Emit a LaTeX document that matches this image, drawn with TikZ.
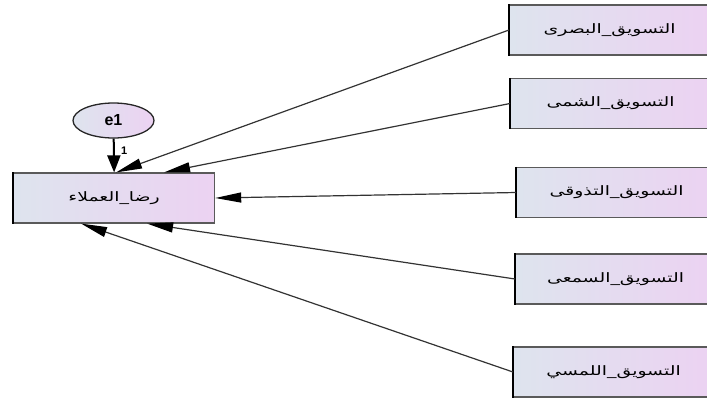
\documentclass[tikz,border=0pt]{standalone}
\usepackage{fontspec}
\usetikzlibrary{arrows.meta,shapes.geometric}
\newfontfamily\arabicfont[Script=Arabic]{DejaVu Sans}
\setmainfont{Liberation Sans}
\TeXXeTstate=1
\definecolor{shL}{RGB}{222,228,238}
\definecolor{shR}{RGB}{236,210,242}
\definecolor{edge}{RGB}{90,90,90}
\newcommand{\artxt}[1]{\scalebox{1.45}[1]{\arabicfont\fontsize{13}{15}\selectfont\beginR #1\endR}}
\tikzset{
  varbox/.style={rectangle, draw=edge, line width=1.2pt, left color=shL, right color=shR,
    minimum width=200pt, minimum height=50pt, inner sep=0pt, anchor=west},
  errnode/.style={ellipse, draw=black!85, line width=1.3pt, left color=shL, right color=shR,
    minimum width=81pt, minimum height=35pt, inner sep=0pt, font=\bfseries\fontsize{16}{18}\selectfont},
  path/.style={draw=black!80, line width=1.2pt, -{Triangle[length=26pt,width=10pt,color=black,fill=black]}},
  errpath/.style={draw=black, line width=2pt, -{Triangle[length=17pt,width=13pt]}},
  leftedge/.style={line width=2.8pt, black},
}
\begin{document}
\begin{tikzpicture}[x=1pt,y=-1pt]
\useasboundingbox (0,0) rectangle (707,397);
\clip (0,0) rectangle (707,397);
\node[varbox] (B1) at (509,30) {\artxt{التسويق\_البصرى}};
\node[varbox] (B2) at (510,103.5) {\artxt{التسويق\_الشمى}};
\node[varbox] (B3) at (516,192.5) {\artxt{التسويق\_التذوقى}};
\node[varbox] (B4) at (515,279) {\artxt{التسويق\_السمعى}};
\node[varbox] (B5) at (513,372) {\artxt{التسويق\_اللمسي}};
\node[varbox, minimum width=201pt] (L) at (13,198) {\artxt{رضا\_العملاء}};
\node[errnode] (E) at (113.5,120.5) {e1};
\foreach \b in {B1,B2,B3,B4,B5,L}{
  \draw[leftedge] (\b.north west) -- (\b.south west);
}
\draw[errpath] (E) -- (L.north) node[pos=0.35, right=3pt, font=\bfseries\fontsize{11}{12}\selectfont] {1};
\draw[path] (B1.west) -- ([xshift=2pt]L.north);
\draw[path] (B2.west) -- ([xshift=50pt]L.north);
\draw[path] (B3.west) -- (L.east);
\draw[path] (B4.west) -- ([xshift=33pt]L.south);
\draw[path] (B5.west) -- ([xshift=-33pt]L.south);
\end{tikzpicture}
\end{document}
